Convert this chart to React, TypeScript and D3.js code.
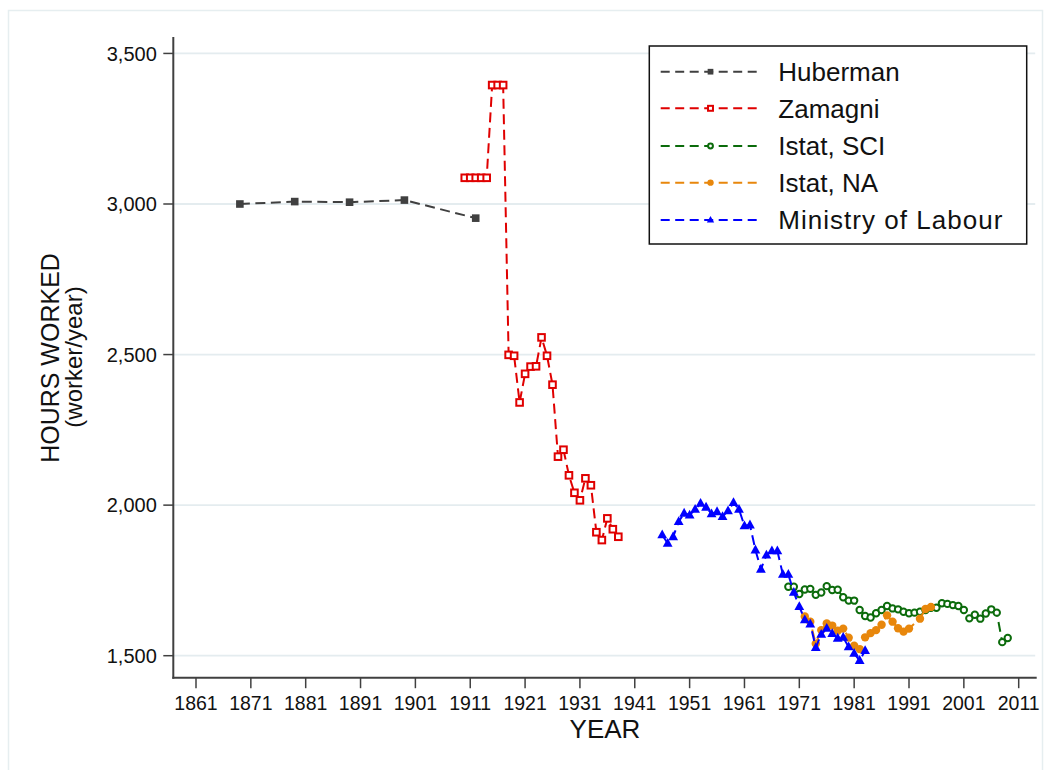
import React from "react";
import * as d3 from "d3";

const hubermanYears = [1869, 1879, 1889, 1899, 1912];
const hubermanHours = [3000, 3008, 3006, 3013, 2953];

const zamagniYears = [1910, 1911, 1912, 1913, 1914, 1915, 1916, 1917, 1918, 1919, 1920, 1921, 1922, 1923, 1924, 1925, 1926, 1927, 1928, 1929, 1930, 1931, 1932, 1933, 1934, 1935, 1936, 1937, 1938];
const zamagniHours = [3087, 3087, 3087, 3087, 3087, 3395, 3395, 3395, 2499, 2496, 2341, 2436, 2460, 2461, 2557, 2496, 2400, 2161, 2184, 2099, 2041, 2016, 2089, 2066, 1910, 1884, 1956, 1920, 1895];

const sciYears = [1969, 1970, 1971, 1972, 1973, 1974, 1975, 1976, 1977, 1978, 1979, 1980, 1981, 1982, 1983, 1984, 1985, 1986, 1987, 1988, 1989, 1990, 1991, 1992, 1993, 1994, 1995, 1996, 1997, 1998, 1999, 2000, 2001, 2002, 2003, 2004, 2005, 2006, 2007, 2008, 2009];
const sciHours = [1729, 1729, 1705, 1720, 1722, 1702, 1710, 1731, 1718, 1719, 1694, 1683, 1683, 1652, 1632, 1627, 1641, 1652, 1665, 1657, 1654, 1646, 1641, 1643, 1646, 1652, 1659, 1659, 1674, 1672, 1668, 1665, 1652, 1624, 1636, 1623, 1640, 1654, 1643, 1545, 1559];

const naYears = [1972, 1973, 1974, 1975, 1976, 1977, 1978, 1979, 1980, 1981, 1982, 1983, 1984, 1985, 1986, 1987, 1988, 1989, 1990, 1991, 1993, 1994, 1995];
const naHours = [1630, 1613, 1540, 1585, 1607, 1600, 1583, 1590, 1560, 1533, 1522, 1561, 1575, 1585, 1603, 1634, 1613, 1591, 1580, 1590, 1623, 1655, 1662];

const ministryYears = [1946, 1947, 1948, 1949, 1950, 1951, 1952, 1953, 1954, 1955, 1956, 1957, 1958, 1959, 1960, 1961, 1962, 1963, 1964, 1965, 1966, 1967, 1968, 1969, 1970, 1971, 1972, 1973, 1974, 1975, 1976, 1977, 1978, 1979, 1980, 1981, 1982, 1983];
const ministryHours = [1901, 1873, 1895, 1945, 1973, 1967, 1986, 2006, 1993, 1971, 1978, 1962, 1981, 2008, 1986, 1931, 1934, 1851, 1787, 1834, 1848, 1848, 1770, 1770, 1710, 1663, 1619, 1605, 1527, 1571, 1591, 1573, 1558, 1561, 1529, 1508, 1484, 1517];

const xTicks = [1861, 1871, 1881, 1891, 1901, 1911, 1921, 1931, 1941, 1951, 1961, 1971, 1981, 1991, 2001, 2011];
const yTicks = [1500, 2000, 2500, 3000, 3500];

const seriesNames = ["Huberman", "Zamagni", "Istat, SCI", "Istat, NA", "Ministry of Labour"];
const seriesColors = ["#404040", "#e00000", "#0b6b0b", "#e8870c", "#0000ff"];
const seriesMarkers = ["filledSquare", "hollowSquare", "hollowCircle", "filledCircle", "triangle"];

const FONT = "'Liberation Sans', Arial, Helvetica, sans-serif";

function Marker({ kind, cx, cy, color, s = 1 }: { kind: string; cx: number; cy: number; color: string; s?: number }) {
  if (kind === "filledSquare") {
    const h = 3.8 * s;
    return <rect x={cx - h} y={cy - h} width={2 * h} height={2 * h} fill={color} />;
  }
  if (kind === "hollowSquare") {
    const h = 3.3 * s;
    return <rect x={cx - h} y={cy - h} width={2 * h} height={2 * h} fill="white" stroke={color} strokeWidth={2} />;
  }
  if (kind === "hollowCircle") {
    return <circle cx={cx} cy={cy} r={3.2 * s} fill="white" stroke={color} strokeWidth={2} />;
  }
  if (kind === "filledCircle") {
    return <circle cx={cx} cy={cy} r={4.2 * s} fill={color} />;
  }
  const w = 4.9 * s;
  return <path d={`M${cx},${cy - 5.4 * s}L${cx + w},${cy + 3.4 * s}L${cx - w},${cy + 3.4 * s}Z`} fill={color} />;
}

export default function App() {
  const x = d3.scaleLinear().domain([1861, 2011]).range([196, 1018.7]);
  const y = d3.scaleLinear().domain([1500, 3000]).range([655.7, 204]);
  const plotLeft = 173.3;
  const plotRight = 1036.7;
  const plotTop = 37;
  const plotBottom = 677.7;

  const series = [
    { years: hubermanYears, hours: hubermanHours },
    { years: zamagniYears, hours: zamagniHours },
    { years: sciYears, hours: sciHours },
    { years: naYears, hours: naHours },
    { years: ministryYears, hours: ministryHours },
  ];

  const line = d3
    .line<[number, number]>()
    .x((d) => x(d[0]))
    .y((d) => y(d[1]));

  const fmt = d3.format(",");
  const legendRows = [71.7, 108.3, 146, 182.7, 220];

  return (
    <svg
      width={1051}
      height={770}
      style={{ position: "absolute", left: 0, top: 0, background: "white" }}
      fontFamily={FONT}
    >
      <rect x={8.5} y={10.5} width={1034} height={780} fill="white" stroke="#e6eef0" strokeWidth={1.5} />
      {/* gridlines */}
      {yTicks.map((t) => (
        <line key={"g" + t} x1={plotLeft} x2={plotRight - 1.5} y1={y(t)} y2={y(t)} stroke="#e4ecef" strokeWidth={1.8} />
      ))}
      {/* series */}
      {series.map((s, i) => {
        const pts = s.years.map((yr, j) => [yr, s.hours[j]] as [number, number]);
        return (
          <g key={"s" + i}>
            <path d={line(pts) || ""} fill="none" stroke={seriesColors[i]} strokeWidth={2} strokeDasharray="10,5.5" />
            {pts.map((p, j) => (
              <Marker key={j} kind={seriesMarkers[i]} cx={x(p[0])} cy={y(p[1])} color={seriesColors[i]} />
            ))}
          </g>
        );
      })}
      {/* axes */}
      <line x1={plotLeft} x2={plotLeft} y1={plotTop} y2={plotBottom + 1} stroke="#404040" strokeWidth={2} />
      <line x1={plotLeft - 1} x2={plotRight} y1={plotBottom} y2={plotBottom} stroke="#404040" strokeWidth={2} />
      {yTicks.map((t) => (
        <g key={"yt" + t}>
          <line x1={plotLeft - 10} x2={plotLeft} y1={y(t)} y2={y(t)} stroke="#404040" strokeWidth={1.5} />
          <text x={plotLeft - 16.5} y={y(t)} dy="0.36em" textAnchor="end" fontSize={20} fill="#111">
            {fmt(t)}
          </text>
        </g>
      ))}
      {xTicks.map((t) => (
        <g key={"xt" + t}>
          <line x1={x(t)} x2={x(t)} y1={plotBottom} y2={plotBottom + 10.5} stroke="#404040" strokeWidth={1.5} />
          <text x={x(t)} y={710} textAnchor="middle" fontSize={19.5} fill="#111">
            {t}
          </text>
        </g>
      ))}
      <text x={605} y={738} textAnchor="middle" fontSize={26} fill="#111">
        YEAR
      </text>
      <text transform="translate(58.5,358) rotate(-90)" textAnchor="middle" fontSize={25} fill="#111">
        HOURS WORKED
      </text>
      <text transform="translate(82,357) rotate(-90)" textAnchor="middle" fontSize={24} fill="#111">
        (worker/year)
      </text>
      {/* legend */}
      <rect x={649.3} y={46} width={377.4} height={198} fill="white" stroke="#111" strokeWidth={1.5} />
      {seriesNames.map((name, i) => (
        <g key={"l" + i}>
          <line x1={660.7} x2={760.7} y1={legendRows[i]} y2={legendRows[i]} stroke={seriesColors[i]} strokeWidth={2} strokeDasharray="9,5.5" />
          <Marker kind={seriesMarkers[i]} cx={710.5} cy={legendRows[i]} color={seriesColors[i]} s={0.75} />
          <text
            x={778.3}
            y={legendRows[i]}
            dy="0.36em"
            fontSize={26}
            fill="#111"
            {...(name.length > 12 ? { textLength: 224, lengthAdjust: "spacing" } : {})}
          >
            {name}
          </text>
        </g>
      ))}
    </svg>
  );
}
